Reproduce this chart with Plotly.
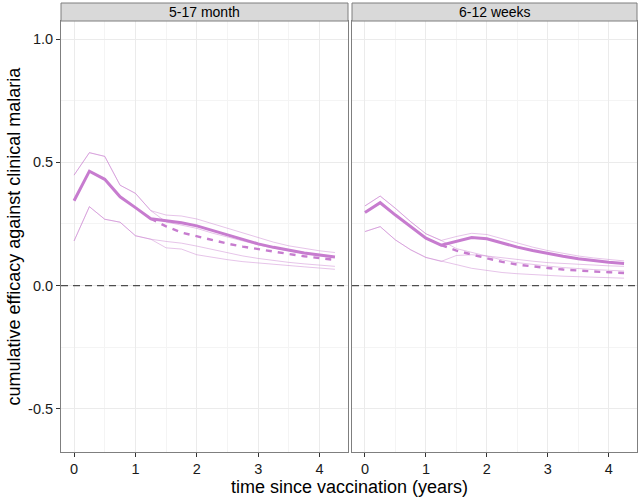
import plotly.graph_objects as go

# ---------------- data ----------------
years = [0, 0.25, 0.5, 0.75, 1.0, 1.25, 1.5, 1.75, 2.0, 2.25, 2.5, 2.75, 3.0, 3.25, 3.5, 3.75, 4.0, 4.25]
panels = ["5-17 month", "6-12 weeks"]

# Panel 1: 5-17 month
p1_main = [0.344, 0.464, 0.431, 0.360, 0.316, 0.271, 0.263, 0.255, 0.242, 0.223, 0.204, 0.186, 0.169, 0.155, 0.142, 0.132, 0.124, 0.116]
p1_dash_x = [1.25, 1.5, 1.75, 2.0, 2.25, 2.5, 2.75, 3.0, 3.25, 3.5, 3.75, 4.0, 4.25]
p1_dash = [0.271, 0.240, 0.215, 0.199, 0.183, 0.170, 0.158, 0.147, 0.137, 0.128, 0.119, 0.111, 0.104]
p1_main_upper = [0.448, 0.539, 0.524, 0.407, 0.374, 0.304, 0.286, 0.282, 0.270, 0.251, 0.233, 0.212, 0.192, 0.176, 0.161, 0.150, 0.141, 0.134]
p1_main_lower = [0.181, 0.320, 0.269, 0.257, 0.202, 0.188, 0.179, 0.172, 0.160, 0.146, 0.133, 0.120, 0.110, 0.101, 0.094, 0.088, 0.082, 0.078]
p1_dash_upper = [0.448, 0.539, 0.524, 0.407, 0.374, 0.304, 0.258, 0.245, 0.232, 0.213, 0.196, 0.180, 0.165, 0.152, 0.140, 0.130, 0.121, 0.114]
p1_dash_lower = [0.181, 0.320, 0.269, 0.257, 0.202, 0.188, 0.153, 0.148, 0.125, 0.114, 0.105, 0.097, 0.091, 0.086, 0.081, 0.076, 0.071, 0.066]

# Panel 2: 6-12 weeks
p2_main = [0.296, 0.336, 0.286, 0.239, 0.192, 0.164, 0.179, 0.195, 0.190, 0.172, 0.156, 0.142, 0.129, 0.119, 0.109, 0.101, 0.095, 0.090]
p2_dash_x = [1.25, 1.5, 1.75, 2.0, 2.25, 2.5, 2.75, 3.0, 3.25, 3.5, 3.75, 4.0, 4.25]
p2_dash = [0.164, 0.142, 0.126, 0.110, 0.096, 0.085, 0.077, 0.071, 0.065, 0.060, 0.057, 0.054, 0.051]
p2_main_upper = [0.323, 0.363, 0.313, 0.259, 0.210, 0.183, 0.199, 0.212, 0.207, 0.190, 0.172, 0.156, 0.142, 0.130, 0.120, 0.112, 0.105, 0.100]
p2_main_lower = [0.219, 0.239, 0.185, 0.145, 0.114, 0.098, 0.122, 0.125, 0.120, 0.112, 0.105, 0.099, 0.093, 0.089, 0.085, 0.082, 0.080, 0.078]
p2_dash_upper = [0.323, 0.363, 0.313, 0.259, 0.210, 0.183, 0.150, 0.134, 0.118, 0.104, 0.093, 0.085, 0.079, 0.073, 0.068, 0.065, 0.062, 0.059]
p2_dash_lower = [0.219, 0.239, 0.185, 0.145, 0.114, 0.098, 0.085, 0.070, 0.060, 0.053, 0.048, 0.044, 0.041, 0.038, 0.036, 0.034, 0.032, 0.030]

x_ticks = [0, 1, 2, 3, 4]
y_ticks = [-0.5, 0.0, 0.5, 1.0]
y_tick_text = ["-0.5", "0.0", "0.5", "1.0"]
x_title = "time since vaccination (years)"
y_title = "cumulative efficacy against clinical malaria"

# ---------------- style ----------------
MAIN = "#c77ccf"
THIN = "rgba(199,124,207,0.5)"
FONT = "Liberation Sans, Arial, sans-serif"
X_RANGE = [-0.2125, 4.4625]
Y_RANGE = [-0.675, 1.073]
ML, MR, MT, MB = 61, 1, 21, 45
W, H = 638, 497
PW, PH = W - ML - MR, H - MT - MB

fig = go.Figure()

series = [
    ("x", "y", p1_main, p1_dash_x, p1_dash, [p1_main_upper, p1_main_lower, p1_dash_upper, p1_dash_lower]),
    ("x2", "y2", p2_main, p2_dash_x, p2_dash, [p2_main_upper, p2_main_lower, p2_dash_upper, p2_dash_lower]),
]
for xa, ya, main, dx, dy, bands in series:
    for b in bands:
        fig.add_trace(go.Scatter(x=years, y=b, mode="lines", xaxis=xa, yaxis=ya,
                                 line=dict(color=THIN, width=0.9), showlegend=False, hoverinfo="skip"))
    fig.add_trace(go.Scatter(x=dx, y=dy, mode="lines", xaxis=xa, yaxis=ya,
                             line=dict(color=MAIN, width=2.4, dash="6px,6px"), showlegend=False))
    fig.add_trace(go.Scatter(x=years, y=main, mode="lines", xaxis=xa, yaxis=ya,
                             line=dict(color=MAIN, width=3), showlegend=False))

axis_common = dict(
    showgrid=True, gridcolor="#ebebeb", gridwidth=1,
    zeroline=False, showline=True, linecolor="#7f7f7f", linewidth=1, mirror=True,
    ticklen=4, tickcolor="#333333", automargin=False,
    tickfont=dict(family=FONT, size=14.5, color="#1a1a1a"),
)
minor_x = dict(dtick=0.5, tick0=0.5, showgrid=True, gridcolor="#f4f4f4", gridwidth=0.6, ticks="")
minor_y = dict(dtick=0.25, tick0=0.25, showgrid=True, gridcolor="#f4f4f4", gridwidth=0.6, ticks="")

d1 = [0, (348 - ML) / PW]
d2 = [(352 - ML) / PW, 1]

fig.update_layout(
    width=W, height=H,
    margin=dict(l=ML, r=MR, t=MT, b=MB),
    paper_bgcolor="white", plot_bgcolor="white",
    font=dict(family=FONT, color="black"),
    xaxis=dict(domain=d1, range=X_RANGE, tickvals=x_ticks, anchor="y", ticks="outside",
               minor=minor_x, **axis_common),
    xaxis2=dict(domain=d2, range=X_RANGE, tickvals=x_ticks, anchor="y2", ticks="outside",
                minor=minor_x, **axis_common),
    yaxis=dict(domain=[0, 1], range=Y_RANGE, tickvals=y_ticks, ticktext=y_tick_text, anchor="x",
               ticks="outside", minor=minor_y, **axis_common),
    yaxis2=dict(domain=[0, 1], range=Y_RANGE, tickvals=y_ticks, anchor="x2", showticklabels=False,
                ticks="", minor=minor_y, **axis_common),
)

# zero reference lines
for xr, yr in (("x domain", "y"), ("x2 domain", "y2")):
    fig.add_shape(type="line", xref=xr, yref=yr, x0=0, x1=1, y0=0, y1=0,
                  line=dict(color="#4d4d4d", width=1.2, dash="7px,5px"), layer="above")

# facet strips
strip_h = 18 / PH
for (x0, x1), label in zip([d1, d2], panels):
    fig.add_shape(type="rect", xref="paper", yref="paper", x0=x0, x1=x1,
                  y0=1.0, y1=1.0 + strip_h, fillcolor="#d9d9d9",
                  line=dict(color="#7f7f7f", width=1))
    fig.add_annotation(x=(x0 + x1) / 2, y=1.0 + strip_h / 2, xref="paper", yref="paper",
                       text=label, showarrow=False, xanchor="center", yanchor="middle",
                       font=dict(family=FONT, size=14, color="black"))

# axis titles
fig.add_annotation(x=0.5, y=(H - MB - 487) / PH, xref="paper", yref="paper", text=x_title,
                   showarrow=False, xanchor="center", yanchor="middle",
                   font=dict(family=FONT, size=18, color="black"))
fig.add_annotation(x=(13 - ML) / PW, y=0.5, xref="paper", yref="paper", text=y_title,
                   showarrow=False, textangle=-90, xanchor="center", yanchor="middle",
                   font=dict(family=FONT, size=18, color="black"))

fig.write_html("out.html",
               config={"displayModeBar": False},
               post_script="document.body.style.margin='0';document.body.style.padding='0';"
                           "document.body.style.overflow='hidden';")
